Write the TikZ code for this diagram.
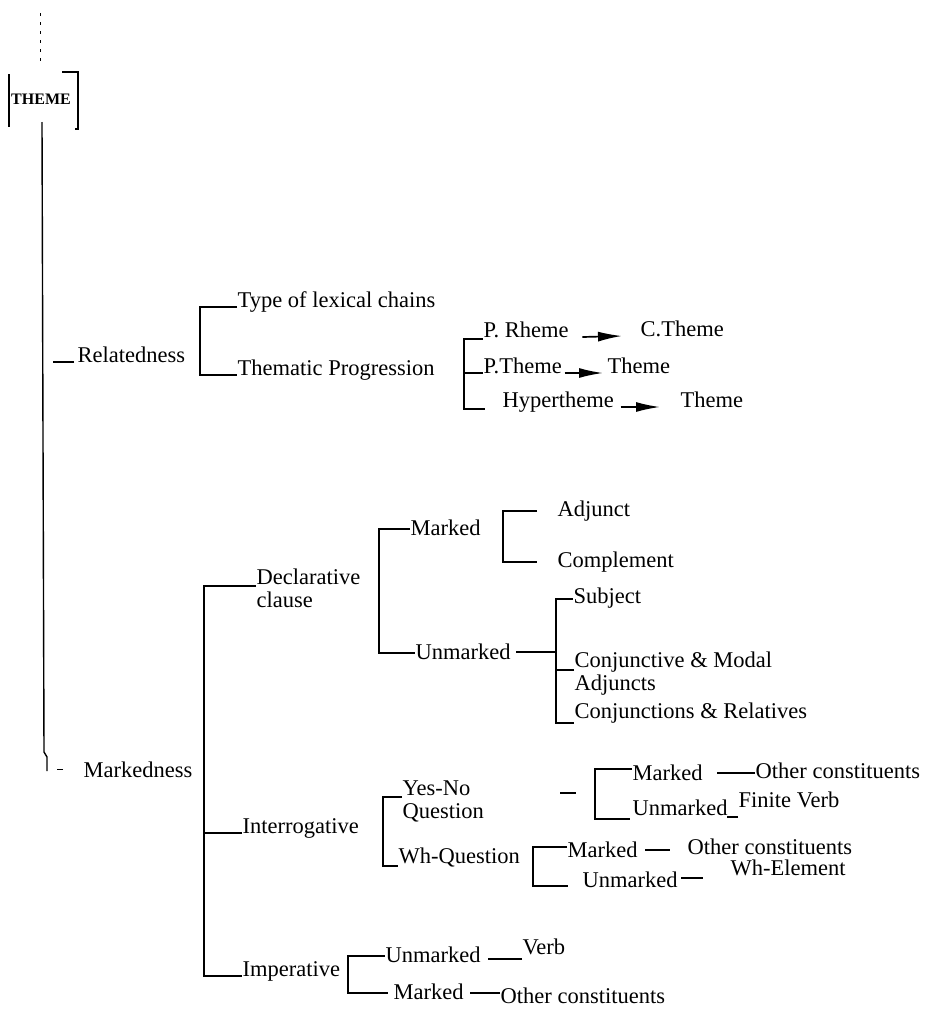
\documentclass[tikz,border=0pt]{standalone}
\usepackage{fontspec}
\setmainfont{Liberation Serif}
\usetikzlibrary{arrows.meta,positioning,calc}

\begin{document}
\begin{tikzpicture}[x=1pt,y=-1pt,line width=1.4pt,
		lbl/.style={anchor=base west,inner sep=0pt,align=left,font=\fontsize{22.5}{23}\selectfont},
		arr/.style={-{Latex[length=24pt,width=10pt]},line width=1.7pt}]
			\useasboundingbox (0,0) rectangle (927,1009);
			% theme box
			\node[inner sep=0pt,font=\bfseries\fontsize{16}{16}\selectfont] (theme) at (41,99) {THEME};
			\draw[line width=0.8pt,dash pattern=on 3pt off 6pt] (40,13) -- (40,66);
			\draw[line width=2pt] (9,74) -- (9,127);
			\draw (62,72) -- (78,72) -- (78,129) -- (75,129);
			\coordinate (top) at (42,122);
			\draw (top) -- (44,752) -- (47,757) -- (47,771);
			% relatedness
			\node[lbl] (rel) at (77,362) {Relatedness};
			\node[lbl] (typ) at (237,307) {Type of lexical chains};
			\node[lbl] (thp) at (237,375) {Thematic Progression};
			\node[lbl] (prh) at (483,337) {P. Rheme};
			\node[lbl] (cth) at (640,336) {C.Theme};
			\node[lbl] (pth) at (483,373) {P.Theme};
			\node[lbl] (thA) at (607,373) {Theme};
			\node[lbl] (hyp) at (502,407) {Hypertheme};
			\node[lbl] (thB) at (680,407) {Theme};
			\draw ([xshift=-3pt]rel.base west) -- ++(-21,0);
			\draw (typ.base west) -- ++(-37,0) |- (thp.base west);
			\draw ([yshift=-2pt]prh.base west) -- ++(-19,0) |- ([xshift=-17pt,yshift=-2pt]hyp.base west);
			\draw (pth.base west) -- ++(-19,0);
			\draw[arr] ([xshift=13pt]prh.base east) -- ([xshift=-18pt]cth.base west);
			\draw[arr] ([xshift=2pt]pth.base east) -- ([xshift=-4pt]thA.base west);
			\draw[arr] ([xshift=6pt]hyp.base east) -- ([xshift=-20pt]thB.base west);
			% markedness
			\node[lbl] (mkd) at (83,777) {Markedness};
			\draw[line width=0.8pt] ([xshift=-20pt,yshift=8pt]mkd.base west) -- ++(-6,0);
			\node[lbl] (dec) at (256,607) {Declarative\\clause};
			\node[lbl] (int) at (242,833) {Interrogative};
			\node[lbl] (imp) at (242,976) {Imperative};
			\draw ([yshift=21pt]dec.base west) -- ++(-52,0) |- (imp.base west);
			\draw (int.base west) -- ++(-38,0);
			% declarative
			\node[lbl] (mkA) at (410,535) {Marked};
			\node[lbl] (unA) at (415,659) {Unmarked};
			\node[lbl] (adj) at (557,516) {Adjunct};
			\node[lbl] (cmp) at (557,567) {Complement};
			\node[lbl] (sbj) at (573,603) {Subject};
			\node[lbl] (cjm) at (574,690) {Conjunctive \& Modal\\Adjuncts};
			\node[lbl] (cjr) at (574,718) {Conjunctions \& Relatives};
			\draw ([yshift=6pt]mkA.base west) -- ++(-31,0) |- ([yshift=6pt]unA.base west);
			\draw ([xshift=-20pt,yshift=5pt]adj.base west) -- ++(-34,0) |- ([xshift=-20pt,yshift=5pt]cmp.base west);
			\draw ([yshift=4pt]sbj.base west) -- ++(-17,0) coordinate (sbjsp) |- ([yshift=-5pt]cjr.base west);
			\draw ([yshift=20pt]cjm.base west) -- ++(-18,0);
			\draw ([xshift=5pt,yshift=7pt]unA.base east) -- ([yshift=7pt]unA.base east -| sbjsp);
			% interrogative
			\node[lbl] (yn) at (402,818) {Yes-No\\Question};
			\node[lbl] (whq) at (398,863) {Wh-Question};
			\draw ([yshift=21pt]yn.base west) -- ++(-19,0) |- ([yshift=-3pt]whq.base west);
			\draw (560,793) -- (576,793);
			\node[lbl] (mkB) at (632,780) {Marked};
			\node[lbl] (unB) at (632,815) {Unmarked};
			\node[lbl] (ocA) at (755,778) {Other constituents};
			\node[lbl] (fv) at (738,807) {Finite Verb};
			\draw ([yshift=11pt]mkB.base west) -- ++(-37,0) |- ([xshift=-2pt,yshift=-4pt]unB.base west);
			\draw ([yshift=5pt]ocA.base west) -- ++(-38,0);
			\draw ([yshift=-10pt]fv.base west) -- ++(-11,0);
			\node[lbl] (mkC) at (567,857) {Marked};
			\node[lbl] (unC) at (582,887) {Unmarked};
			\node[lbl] (ocB) at (687,854) {Other constituents};
			\node[lbl] (wh) at (730,875) {Wh-Element};
			\draw ([yshift=10pt]mkC.base west) -- ++(-34,0) |- ([xshift=-14pt,yshift=1pt]unC.base west);
			\draw ([xshift=7pt,yshift=7pt]mkC.base east) -- ++(25,0);
			\draw ([xshift=3pt,yshift=9pt]unC.base east) -- ++(22,0);
			% imperative
			\node[lbl] (unD) at (385,962) {Unmarked};
			\node[lbl] (mkD) at (393,999) {Marked};
			\node[lbl] (vb) at (522,954) {Verb};
			\node[lbl] (ocC) at (500,1003) {Other constituents};
			\draw ([yshift=6pt]unD.base west) -- ++(-37,0) |- ([xshift=-5pt,yshift=6pt]mkD.base west);
			\draw ([yshift=-5pt]vb.base west) -- ++(-34,0);
			\draw ([yshift=10pt]ocC.base west) -- ++(-30,0);
		\end{tikzpicture}
\end{document}
